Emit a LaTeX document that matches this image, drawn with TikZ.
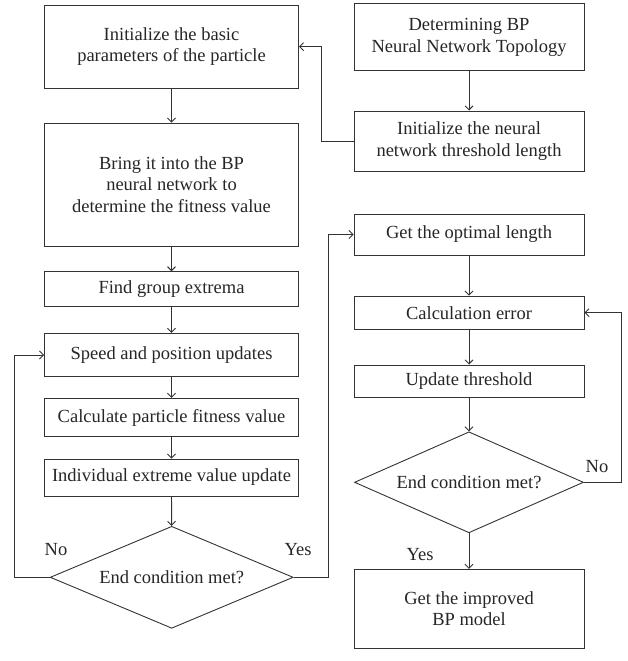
\documentclass[tikz,border=0pt]{standalone}
\usepackage{fontspec}
\setmainfont{Liberation Serif}
\usetikzlibrary{shapes.geometric,arrows.meta}
\begin{document}
\begin{tikzpicture}[x=1pt,y=-1pt,
  every node/.style={text=black!85},
  box/.style={draw=black!80,line width=0.9pt,align=center,inner sep=2pt,
    font=\fontsize{18.5}{21.7}\selectfont},
  dia/.style={draw=black!80,line width=0.9pt,diamond,inner sep=2pt,shape aspect=2.4,
    font=\fontsize{18.5}{21.7}\selectfont},
  lab/.style={font=\fontsize{18.5}{21.7}\selectfont,inner sep=1pt},
  arr/.style={draw=black!80,line width=0.9pt,-{Straight Barb[length=4pt,width=8pt]}}]
\useasboundingbox (0,0) rectangle (627,661);
% left column
\node[box,minimum width=254pt,minimum height=83pt] (b1) at (171.5,46.7) {Initialize the basic\\parameters of the particle};
\node[box,minimum width=254pt,minimum height=123pt] (b2) at (171.5,184.5) {Bring it into the BP\\neural network to\\determine the fitness value};
\node[box,minimum width=254pt,minimum height=35pt] (b3) at (171.5,289.2) {Find group extrema};
\node[box,minimum width=254pt,minimum height=43.4pt] (b4) at (171.5,355) {Speed and position updates};
\node[box,minimum width=254pt,minimum height=38.4pt] (b5) at (171.5,417.5) {Calculate particle fitness value};
\node[box,minimum width=254pt,minimum height=37pt] (b6) at (171.5,477.5) {Individual extreme value update};
\node[dia,minimum width=243pt,minimum height=102pt] (d1) at (171.7,577.3) {End condition met?};
% right column
\node[box,minimum width=230pt,minimum height=66.7pt] (r1) at (469,37.3) {Determining BP\\Neural Network Topology};
\node[box,minimum width=230pt,minimum height=60.7pt] (r2) at (469,141.3) {Initialize the neural\\network threshold length};
\node[box,minimum width=230pt,minimum height=41pt] (r3) at (469,234.5) {Get the optimal length};
\node[box,minimum width=230pt,minimum height=33.3pt] (r4) at (469,312.7) {Calculation error};
\node[box,minimum width=230pt,minimum height=32.7pt] (r5) at (469,381.3) {Update threshold};
\node[dia,minimum width=229pt,minimum height=101pt] (d2) at (469,482.3) {End condition met?};
\node[box,minimum width=230pt,minimum height=79pt] (r6) at (469,608.8) {Get the improved\\BP model};
% labels
\node[lab] (no1) at (56,550) {No};
\node[lab] (yes1) at (298,550) {Yes};
\node[lab] (no2) at (597,467) {No};
\node[lab] (yes2) at (420,555) {Yes};
% connectors
\draw[arr] (b1) -- (b2);
\draw[arr] (b2) -- (b3);
\draw[arr] (b3) -- (b4);
\draw[arr] (b4) -- (b5);
\draw[arr] (b5) -- (b6);
\draw[arr] (b6) -- (d1);
\draw[arr] (r1) -- (r2);
\draw[arr] (r3) -- (r4);
\draw[arr] (r4) -- (r5);
\draw[arr] (r5) -- (d2);
\draw[arr] (d2) -- (r6);
\draw[arr] (r2.west) -- ++(-32,0) |- (b1.east);
\draw[arr] (d1.west) -- ++(-35,0) |- (b4.west);
\draw[arr] (d1.east) -- ++(35,0) |- (r3.west);
\draw[arr] (d2.east) -- ++(37.5,0) |- (r4.east);
\end{tikzpicture}
\end{document}
